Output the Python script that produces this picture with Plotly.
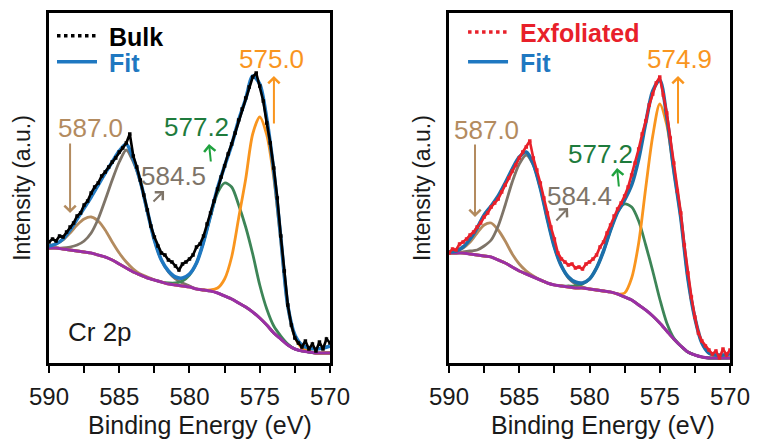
import plotly.graph_objects as go

# ---------------- data ----------------
energy_fit = [round(590 - 0.5 * i, 2) for i in range(41)]    # 590 ... 570 eV
energy_raw = [round(590 - 0.25 * i, 2) for i in range(81)]   # 590 ... 570 eV

# Bulk (left panel)
bulk_raw = [121, 124, 122, 127, 126, 131, 136, 140, 147, 150,
            158, 162, 170, 176, 180, 187, 191, 196, 201, 205,
            211, 215, 220, 229, 207, 196, 183, 168, 153, 137,
            126, 117, 110, 108, 103, 101, 97, 93, 99, 101,
            104, 108, 116, 119, 127, 139, 150, 162, 174, 186,
            197, 209, 219, 230, 243, 254, 265, 276, 286, 290,
            277, 262, 240, 220, 195, 165, 127, 92, 58, 38,
            25, 20, 16, 22, 14, 19, 12, 21, 14, 24,
            20]
bulk_fit = [117, 119, 124, 133, 144, 155, 166, 178, 190, 201,
            212, 219, 204, 182, 152, 123, 103, 92, 86, 85,
            89, 100, 121, 148, 175, 197, 218, 243, 264, 287,
            279, 244, 192, 125, 57, 28, 18, 15, 14, 15,
            17]
bulk_bg = [115, 115, 114, 113, 112, 111, 110, 108, 106, 103, 99, 95, 91, 88, 85, 83, 81, 79, 78, 77,
           76, 74, 73, 72, 70, 67, 64, 60, 56, 51, 45, 38, 30, 24, 18, 14, 12, 11, 10, 10, 10]
bulk_587 = [117, 119, 123, 130, 138, 144, 146, 142, 133, 121, 110, 101, 94, 89, 86, 83, 81, 79, 78, 77,
            76, 74, 73, 72, 70, 67, 64, 60, 56, 51, 45, 38, 30, 24, 18, 14, 12, 11, 10, 10, 10]
bulk_584 = [115, 115, 115, 116, 118, 122, 130, 144, 163, 183, 201, 213, 201, 181, 151, 123, 103, 91, 84, 80,
            77, 74, 73, 72, 70, 67, 64, 60, 56, 51, 45, 38, 30, 24, 18, 14, 12, 11, 10, 10, 10]
bulk_577 = [115, 115, 114, 113, 112, 111, 110, 108, 106, 103, 99, 95, 91, 88, 85, 83, 81, 80, 80, 82,
            88, 100, 121, 147, 170, 180, 176, 158, 136, 109, 78, 54, 37, 27, 19, 14, 12, 11, 10, 10, 10]
bulk_575 = [115, 115, 114, 113, 112, 111, 110, 108, 106, 103, 99, 95, 91, 88, 85, 83, 81, 79, 78, 77,
            76, 74, 73, 73, 75, 84, 106, 145, 184, 229, 246, 228, 185, 122, 56, 26, 15, 12, 10, 10, 10]

# Exfoliated (right panel)
exf_raw = [110, 114, 113, 119, 121, 124, 128, 131, 136, 140,
           146, 150, 156, 160, 164, 171, 178, 185, 192, 198,
           205, 211, 216, 222, 205, 193, 180, 165, 150, 136,
           124, 110, 104, 101, 98, 99, 95, 96, 94, 99,
           101, 104, 108, 116, 121, 130, 138, 147, 154, 160,
           167, 176, 188, 200, 214, 229, 242, 258, 269, 280,
           286, 268, 250, 225, 200, 172, 150, 118, 90, 66,
           46, 30, 22, 17, 13, 9, 12, 5, 14, 8,
           13]
exf_fit = [111, 112, 116, 124, 135, 148, 157, 167, 180, 194,
           206, 211, 199, 175, 144, 116, 97, 86, 81, 80,
           84, 95, 112, 133, 151, 163, 178, 204, 240, 272,
           283, 246, 193, 145, 85, 45, 20, 10, 8, 8,
           9]
exf_bg = [110, 110, 110, 109, 108, 107, 106, 103, 100, 96, 92, 89, 86, 83, 80, 78, 77, 76, 75, 75,
          74, 73, 72, 71, 69, 66, 63, 58, 53, 47, 40, 32, 24, 17, 11, 8, 6, 5, 5, 5, 5]
exf_587 = [111, 112, 115, 121, 130, 138, 140, 133, 122, 109, 99, 92, 87, 83, 80, 78, 77, 76, 75, 75,
           74, 73, 72, 71, 69, 66, 63, 58, 53, 47, 40, 32, 24, 17, 11, 8, 6, 5, 5, 5, 5]
exf_584 = [110, 110, 111, 112, 113, 117, 123, 137, 158, 181, 199, 208, 198, 175, 144, 116, 97, 85, 79, 76,
           74, 73, 72, 71, 69, 66, 63, 58, 53, 47, 40, 32, 24, 17, 11, 8, 6, 5, 5, 5, 5]
exf_577 = [110, 110, 110, 109, 108, 107, 106, 103, 100, 96, 92, 89, 86, 83, 80, 78, 77, 77, 77, 79,
           84, 95, 112, 133, 151, 159, 156, 142, 118, 92, 64, 40, 25, 17, 11, 8, 6, 5, 5, 5, 5]
exf_575 = [110, 110, 110, 109, 108, 107, 106, 103, 100, 96, 92, 89, 86, 83, 80, 78, 77, 76, 75, 75,
           74, 73, 72, 71, 69, 70, 85, 120, 175, 227, 259, 238, 192, 145, 85, 45, 20, 10, 6, 6, 5]

x_ticks = [590, 585, 580, 575, 570]
x_title = "Binding Energy (eV)"
y_title = "Intensity (a.u.)"

# ---------------- styles ----------------
FONT = "Liberation Sans, Arial, sans-serif"
C_FIT = "#1F78C1"
C_FIT2 = "#1C6FAA"
C_587 = "#B38B5F"
C_584 = "#7E7468"
C_577 = "#3D8557"
C_575 = "#F9951E"
C_BG = "#9A2FA6"
C_RED = "#E8202A"
C_TXT = "#1a1a1a"
NBSP = "\u00a0"

fig = go.Figure()


def add_panel(xa, ya, leg_a, leg_b, raw, raw_color, raw_name, fit, fit_color,
              bg, c587, c584, c577, c575):
    for ys, col in [(c587, C_587), (c584, C_584), (c577, C_577), (c575, C_575)]:
        fig.add_trace(go.Scatter(x=energy_fit, y=ys, mode="lines", xaxis=xa, yaxis=ya,
                                 line=dict(color=col, width=2.8, shape="spline", smoothing=0.8),
                                 showlegend=False, hoverinfo="skip"))
    fig.add_trace(go.Scatter(x=energy_fit, y=bg, mode="lines", xaxis=xa, yaxis=ya,
                             line=dict(color=C_BG, width=3, shape="spline", smoothing=0.8),
                             showlegend=False, hoverinfo="skip"))
    fig.add_trace(go.Scatter(x=energy_fit, y=fit, mode="lines", xaxis=xa, yaxis=ya,
                             line=dict(color=fit_color, width=3.6, shape="spline", smoothing=0.8),
                             showlegend=False, hoverinfo="skip"))
    fig.add_trace(go.Scatter(x=energy_raw, y=raw, mode="lines+markers", xaxis=xa, yaxis=ya,
                             line=dict(color=raw_color, width=2.6),
                             marker=dict(color=raw_color, size=3.5, symbol="square"),
                             showlegend=False, hoverinfo="skip"))
    # legend entries
    fig.add_trace(go.Scatter(x=[None], y=[None], mode="lines", xaxis=xa, yaxis=ya,
                             line=dict(color=raw_color, width=3.5, dash="dot"),
                             name=NBSP + "<b>%s</b>" % raw_name, legend=leg_a))
    fig.add_trace(go.Scatter(x=[None], y=[None], mode="lines", xaxis=xa, yaxis=ya,
                             line=dict(color=C_FIT, width=3.5),
                             name=NBSP + "<b><span style='color:%s'>Fit</span></b>" % C_FIT, legend=leg_b))


add_panel("x", "y", "legend", "legend3", bulk_raw, "#000000", "Bulk", bulk_fit, C_FIT, bulk_bg,
          bulk_587, bulk_584, bulk_577, bulk_575)
add_panel("x2", "y2", "legend2", "legend4", exf_raw, C_RED,
          "<span style='color:%s'>Exfoliated</span>" % C_RED,
          exf_fit, C_FIT2, exf_bg, exf_587, exf_584, exf_577, exf_575)

xaxis_style = dict(range=[590, 570], tickvals=x_ticks, ticks="outside", ticklen=7, tickwidth=2,
                   tickcolor="black", showline=True, linewidth=3, linecolor="black", mirror=True,
                   showgrid=False, zeroline=False, automargin=False, ticklabelstandoff=3,
                   minor=dict(dtick=2.5, tick0=570, ticks="outside", ticklen=7, tickwidth=2,
                              tickcolor="black", showgrid=False),
                   tickfont=dict(size=24, color=C_TXT, family=FONT))
yaxis_style = dict(range=[0, 350], showticklabels=False, ticks="", showline=True, linewidth=3,
                   linecolor="black", mirror=True, showgrid=False, zeroline=False, automargin=False,
                   title=dict(text=y_title, font=dict(size=23, color=C_TXT, family=FONT),
                              standoff=9))

legend_style = dict(bgcolor="rgba(0,0,0,0)", font=dict(size=25, family=FONT, color="black"),
                    itemwidth=40, tracegroupgap=0, xanchor="left", yanchor="middle")

# the page puts the figure 8 px in from the top-left corner of the window
fig.update_layout(
    width=751, height=431,
    margin=dict(l=41, r=29, t=5, b=76, autoexpand=False),
    paper_bgcolor="white", plot_bgcolor="white",
    font=dict(family=FONT, color="black"),
    xaxis=dict(domain=[0, 0.4126], anchor="y", **xaxis_style),
    xaxis2=dict(domain=[0.5874, 1.0], anchor="y2", **xaxis_style),
    yaxis=dict(domain=[0, 1], anchor="x", **yaxis_style),
    yaxis2=dict(domain=[0, 1], anchor="x2", **yaxis_style),
    legend=dict(x=0.0044, y=0.934, **legend_style),
    legend3=dict(x=0.0044, y=0.86, **legend_style),
    legend2=dict(x=0.608, y=0.945, **legend_style),
    legend4=dict(x=0.608, y=0.86, **legend_style),
)

ann = []


def label(xr, yr, x, y, text, color, size=26):
    ann.append(dict(x=x, y=y, xref=xr, yref=yr, text=text, showarrow=False,
                    font=dict(size=size, color=color, family=FONT), xanchor="center", yanchor="middle"))


def arrow(xr, yr, x0, y0, x1, y1, color, width=2):
    ann.append(dict(x=x1, y=y1, ax=x0, ay=y0, xref=xr, yref=yr, axref=xr, ayref=yr, text="",
                    showarrow=True, arrowhead=4, arrowsize=1.1, arrowwidth=width, arrowcolor=color))


# x-axis titles (sit slightly right of the panel centre in the reference)
label("x domain", "y domain", 0.537, -0.176, x_title, C_TXT, size=25)
label("x2 domain", "y2 domain", 0.548, -0.176, x_title, C_TXT, size=25)

# left panel labels
label("x", "y", 574.13, 304, "575.0", C_575)
arrow("x", "y", 573.99, 238, 573.99, 287, C_575)
label("x", "y", 587.08, 235, "587.0", C_587)
arrow("x", "y", 588.5, 221, 588.5, 150, C_587)
label("x", "y", 579.47, 236, "577.2", "#1E7B3C")
arrow("x", "y", 578.47, 200, 578.61, 219, "#1FA23E")
label("x", "y", 581.17, 187, "584.5", C_584)
arrow("x", "y", 582.67, 160, 581.81, 172, C_584)
label("x", "y", 586.37, 31, "Cr 2p", C_TXT, size=26)

# right panel labels
label("x2", "y2", 573.56, 304, "574.9", C_575)
arrow("x2", "y2", 573.70, 238, 573.70, 287, C_575)
label("x2", "y2", 587.30, 233, "587.0", C_587)
arrow("x2", "y2", 588.15, 220, 588.15, 146, C_587)
label("x2", "y2", 579.25, 209, "577.2", "#1E7B3C")
arrow("x2", "y2", 577.90, 175, 578.04, 195, "#1FA23E")
label("x2", "y2", 580.68, 167, "584.4", C_584)
arrow("x2", "y2", 582.46, 141, 581.53, 155, C_584)

fig.update_layout(annotations=ann)

fig.write_html("out.html")
